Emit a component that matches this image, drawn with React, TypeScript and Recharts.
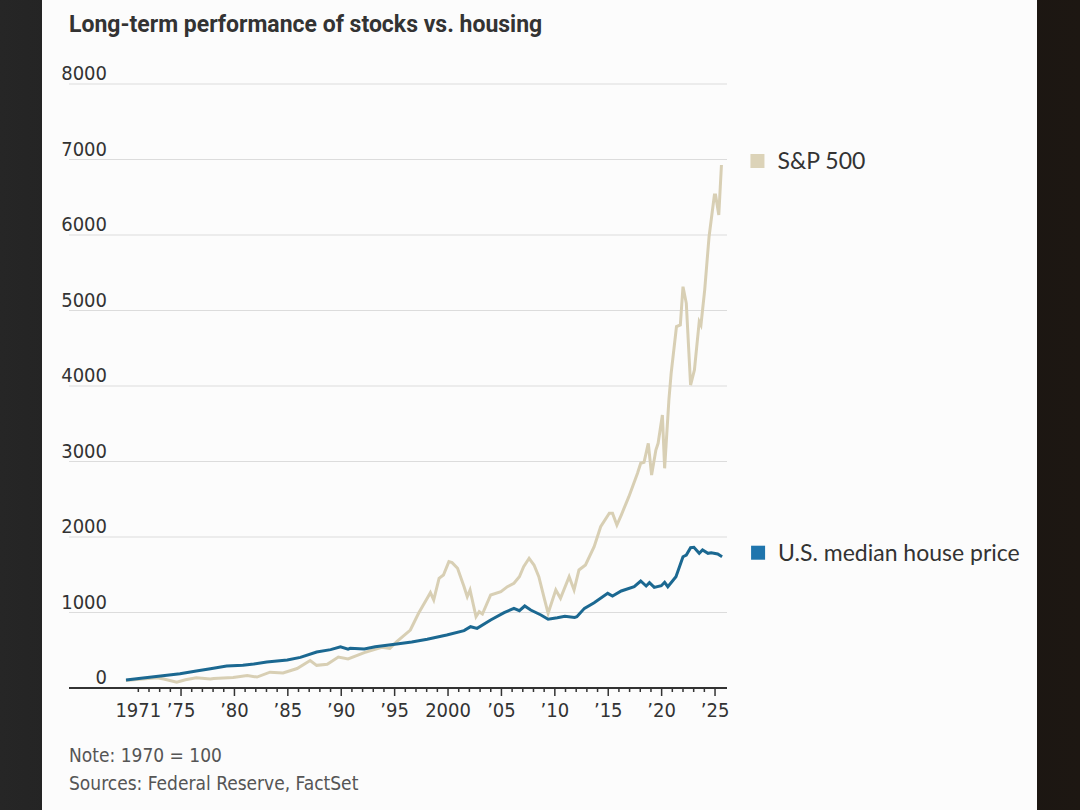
import React from 'react';
import { LineChart, Line, XAxis, YAxis, CartesianGrid } from 'recharts';

// S&P 500, indexed 1970 = 100
const spYears = [
  1969.83, 1970.85, 1972.77, 1973.38, 1974.6, 1975.41, 1976.43, 1977.75, 1978.05, 1979.88,
  1981.2, 1982.11, 1983.33, 1984.55, 1985.87, 1987.09, 1987.7, 1988.69, 1989.73, 1990.64,
  1992.16, 1993.79, 1994.55, 1995.2, 1996.47, 1997.24, 1998.05, 1998.35, 1998.66, 1999.16,
  1999.57, 2000.08, 2000.38, 2000.89, 2001.5, 2001.8, 2002.06, 2002.62, 2002.92, 2003.22,
  2003.99, 2004.95, 2005.56, 2006.17, 2006.68, 2007.08, 2007.59, 2008.05, 2008.5, 2009.01,
  2009.37, 2010.09, 2010.53, 2011.34, 2011.8, 2012.26, 2012.87, 2013.68, 2014.29, 2015.1,
  2015.4, 2015.81, 2016.22, 2016.93, 2017.74, 2018.04, 2018.35, 2018.75, 2019.06, 2019.46,
  2019.67, 2020.07, 2020.28, 2020.68, 2020.89, 2021.39, 2021.75, 2022.0, 2022.31, 2022.71,
  2023.07, 2023.52, 2023.68, 2024.03, 2024.44, 2024.94, 2025.05, 2025.35, 2025.6,
];
const spValues = [
  100, 112, 135, 120, 78, 110, 135, 118, 125, 138,
  165, 145, 210, 200, 258, 365, 300, 315, 410, 385,
  468, 539, 525, 614, 768, 989, 1188, 1263, 1166, 1453,
  1497, 1673, 1660, 1586, 1342, 1209, 1298, 944, 1011, 980,
  1232, 1276, 1342, 1387, 1474, 1607, 1718, 1629, 1474, 1188,
  990, 1298, 1188, 1474, 1298, 1563, 1629, 1872, 2136, 2314,
  2314, 2159, 2291, 2534, 2844, 2976, 2990, 3241, 2821, 3152,
  3241, 3616, 2910, 3815, 4168, 4786, 4808, 5315, 5095, 4013,
  4212, 4852, 4808, 5271, 5977, 6530, 6530, 6265, 6927,
];

// U.S. median house price, indexed 1970 = 100
const houseYears = [
  1969.85, 1971.45, 1973.08, 1974.9, 1976.43, 1977.75, 1979.27, 1980.79, 1981.81, 1983.03,
  1984.95, 1986.17, 1987.7, 1989.01, 1989.93, 1990.64, 1990.84, 1992.16, 1993.18, 1995.2,
  1996.6, 1998.05, 1999.88, 2001.5, 2002.11, 2002.72, 2003.99, 2005.25, 2006.17, 2006.68,
  2007.18, 2007.74, 2008.7, 2009.37, 2010.23, 2010.94, 2011.85, 2012.06, 2012.77, 2013.68,
  2014.95, 2015.4, 2016.22, 2017.43, 2018.04, 2018.55, 2018.86, 2019.31, 2019.97, 2020.28,
  2020.58, 2021.34, 2022.0, 2022.31, 2022.71, 2023.02, 2023.52, 2023.83, 2024.34, 2024.64,
  2025.25, 2025.66,
];
const houseValues = [
  105, 132, 159, 190, 225, 256, 291, 300, 318, 344,
  371, 406, 477, 508, 547, 515, 525, 516, 547, 583,
  610, 645, 702, 760, 812, 790, 900, 998, 1055, 1024,
  1086, 1033, 967, 910, 930, 950, 935, 945, 1055, 1130,
  1254, 1218, 1285, 1342, 1417, 1351, 1395, 1333, 1355, 1400,
  1342, 1474, 1739, 1761, 1858, 1863, 1784, 1828, 1784, 1792,
  1775, 1739,
];

const yTicks = [0, 1000, 2000, 3000, 4000, 5000, 6000, 7000, 8000];
const xTickYears = Array.from({ length: 55 }, (_, i) => 1971 + i);
const labelYears = [1971, 1975, 1980, 1985, 1990, 1995, 2000, 2005, 2010, 2015, 2020, 2025];
const labelTexts = ['1971', '\u201975', '\u201980', '\u201985', '\u201990', '\u201995', '2000', '\u201905', '\u201910', '\u201915', '\u201920', '\u201925'];

const spData = spYears.map((year, i) => ({ year, value: spValues[i] }));
const houseData = houseYears.map((year, i) => ({ year, value: houseValues[i] }));

const SP_COLOR = '#d8cfb4';
const SP_SWATCH = '#dcd3b8';
const HOUSE_COLOR = '#1b6891';
const HOUSE_SWATCH = '#1f75ad';
const TEXT = '#333333';
const NARROW = '"Liberation Sans Narrow", "DejaVu Sans Condensed", "Roboto Condensed", Roboto, sans-serif';
const LEGEND_FONT = 'Lato, "Open Sans", sans-serif';

const XTick = (props: any) => {
  const { x, y, payload } = props;
  const year = payload.value;
  const major = year % 5 === 0;
  const idx = labelYears.indexOf(year);
  return (
    <g>
      <line x1={x} x2={x} y1={y} y2={y + (major ? 8 : 4)} stroke="#333" strokeWidth={1.5} />
      {idx >= 0 && (
        <text x={x} y={y + 29} textAnchor="middle" fontFamily={NARROW} fontSize={20} fill={TEXT}>
          {labelTexts[idx]}
        </text>
      )}
    </g>
  );
};

const YTick = (props: any) => {
  const { x, y, payload } = props;
  return (
    <text x={x + 38} y={y - 4} textAnchor="end" fontFamily={NARROW} fontSize={20} fill={TEXT}>
      {payload.value}
    </text>
  );
};

const endLabel = (name: string, swatch: string, count: number) => (props: any) => {
  const { x, y, index } = props;
  if (index !== count - 1) return null;
  return (
    <g>
      <rect x={x + 29} y={y - 11} width={14} height={14} fill={swatch} />
      <text x={x + 56} y={y + 4} fontFamily={LEGEND_FONT} fontSize={23} fill={TEXT}>
        {name}
      </text>
    </g>
  );
};

export default function App() {
  return (
    <div
      style={{
        position: 'fixed',
        inset: 0,
        overflow: 'hidden',
        background: 'linear-gradient(90deg, #262626 0%, #121212 50%, #1d1712 100%)',
      }}
    >
      <div
        style={{
          position: 'absolute',
          left: 42,
          top: -12,
          width: 995,
          height: 840,
          background: '#fcfcfc',
          borderRadius: 12,
        }}
      />
      <svg width={1080} height={810} style={{ position: 'absolute', left: 0, top: 0 }}>
        <text x={69} y={32} fontFamily="Roboto, sans-serif" fontWeight={700} fontSize={23} fill={TEXT}>
          Long-term performance of stocks vs. housing
        </text>
        <text x={69} y={762} fontFamily={NARROW} fontSize={19} fill="#555">
          Note: 1970 = 100
        </text>
        <text x={69} y={790} fontFamily={NARROW} fontSize={19} fill="#555">
          Sources: Federal Reserve, FactSet
        </text>
      </svg>
      <div style={{ position: 'absolute', left: 0, top: 0 }}>
        <LineChart width={1080} height={810} margin={{ top: 84, right: 353, bottom: 92, left: 69 }}>
          <CartesianGrid vertical={false} stroke="#dcdcdc" strokeWidth={1} />
          <XAxis
            dataKey="year"
            type="number"
            domain={[1964.51, 2026.12]}
            allowDataOverflow
            ticks={xTickYears}
            interval={0}
            tick={<XTick />}
            tickLine={false}
            tickSize={0}
            tickMargin={0}
            axisLine={{ stroke: '#333', strokeWidth: 2 }}
            height={30}
          />
          <YAxis
            type="number"
            domain={[0, 8000]}
            ticks={yTicks}
            interval={0}
            mirror
            axisLine={false}
            tickLine={false}
            tickSize={0}
            tickMargin={0}
            tick={<YTick />}
          />
          <Line
            data={spData}
            dataKey="value"
            type="linear"
            stroke={SP_COLOR}
            strokeWidth={3}
            dot={false}
            isAnimationActive={false}
            label={endLabel('S&P 500', SP_SWATCH, spData.length)}
          />
          <Line
            data={houseData}
            dataKey="value"
            type="linear"
            stroke={HOUSE_COLOR}
            strokeWidth={3}
            dot={false}
            isAnimationActive={false}
            label={endLabel('U.S. median house price', HOUSE_SWATCH, houseData.length)}
          />
        </LineChart>
      </div>
    </div>
  );
}
